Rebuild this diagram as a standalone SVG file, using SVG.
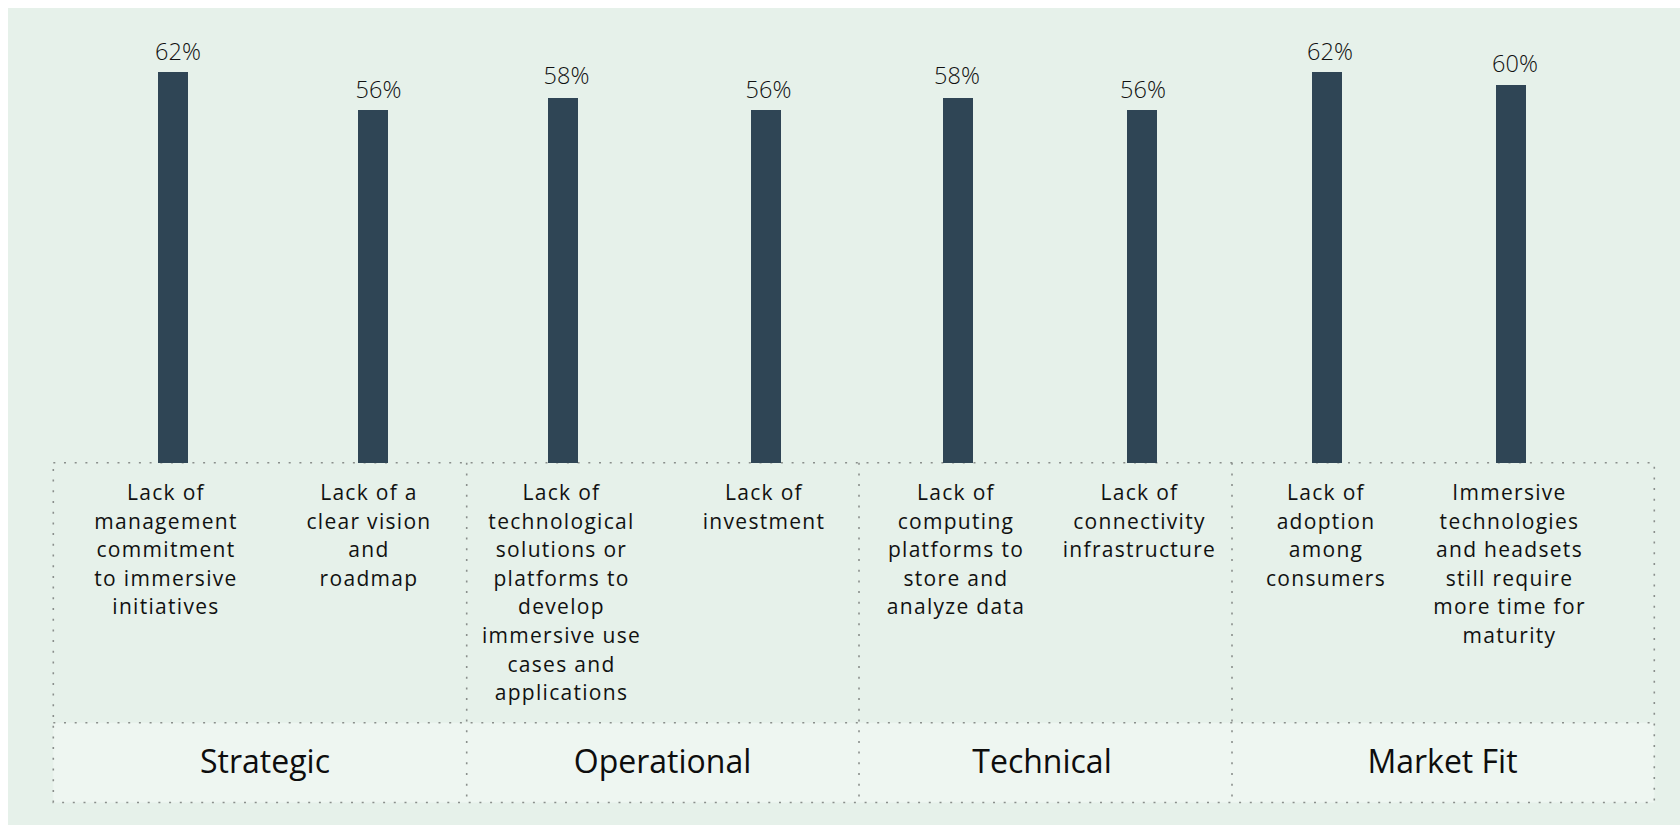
<svg xmlns="http://www.w3.org/2000/svg" width="1680" height="825" viewBox="0 0 1680 825">
<style>
.bar{fill:#2f4555}
.pct{font-family:"Open Sans","Liberation Sans",sans-serif;font-weight:350;font-size:23.5px;fill:#111;text-anchor:middle}
.lbl{font-family:"Open Sans","Liberation Sans",sans-serif;font-weight:380;font-size:21px;letter-spacing:1.3px;fill:#111;text-anchor:middle}
.cat{font-family:"Open Sans","Liberation Sans",sans-serif;font-weight:400;font-size:32px;fill:#0d0d0d;text-anchor:middle}
.dot{fill:none;stroke:#8a8f8c;stroke-width:1.6;stroke-dasharray:2 8.7}
</style>
<rect x="0" y="0" width="1680" height="825" fill="#ffffff"/>
<rect x="8" y="8" width="1672" height="817" fill="#e6f1ea"/>
<rect x="53.3" y="722.7" width="1601" height="79.8" fill="#eef6f1"/>

<g id="sections">
<g id="strategic"><text class="cat" x="265" y="773">Strategic</text></g>
<g id="operational"><text class="cat" x="662.5" y="772.5">Operational</text></g>
<g id="technical"><text class="cat" x="1042" y="772.5">Technical</text></g>
<g id="marketfit"><text class="cat" x="1442.5" y="772.5">Market Fit</text></g>
</g>

<g id="grid">
<rect class="dot" x="53.3" y="462.7" width="1601" height="339.8"/>
<line class="dot" x1="53.3" y1="722.7" x2="1654.3" y2="722.7"/>
<line class="dot" x1="466.7" y1="462.7" x2="466.7" y2="802.5"/>
<line class="dot" x1="859" y1="462.7" x2="859" y2="802.5"/>
<line class="dot" x1="1232" y1="462.7" x2="1232" y2="802.5"/>
</g>

<g id="bar1">
<rect class="bar" x="158" y="72" width="30" height="391"/>
<text class="pct" x="178" y="60">62%</text>
<text class="lbl" x="166"><tspan x="166" y="500">Lack of</tspan><tspan x="166" y="528.6">management</tspan><tspan x="166" y="557.2">commitment</tspan><tspan x="166" y="585.8">to immersive</tspan><tspan x="166" y="614.4">initiatives</tspan></text>
</g>
<g id="bar2">
<rect class="bar" x="358" y="110" width="30" height="353"/>
<text class="pct" x="378.5" y="97.5">56%</text>
<text class="lbl" x="369"><tspan x="369" y="500">Lack of a</tspan><tspan x="369" y="528.6">clear vision</tspan><tspan x="369" y="557.2">and</tspan><tspan x="369" y="585.8">roadmap</tspan></text>
</g>
<g id="bar3">
<rect class="bar" x="548" y="98" width="30" height="365"/>
<text class="pct" x="566.5" y="83.5">58%</text>
<text class="lbl" x="561.5"><tspan x="561.5" y="500">Lack of</tspan><tspan x="561.5" y="528.6">technological</tspan><tspan x="561.5" y="557.2">solutions or</tspan><tspan x="561.5" y="585.8">platforms to</tspan><tspan x="561.5" y="614.4">develop</tspan><tspan x="561.5" y="643">immersive use</tspan><tspan x="561.5" y="671.6">cases and</tspan><tspan x="561.5" y="700.2">applications</tspan></text>
</g>
<g id="bar4">
<rect class="bar" x="751" y="110" width="30" height="353"/>
<text class="pct" x="768.5" y="97.5">56%</text>
<text class="lbl" x="764"><tspan x="764" y="500">Lack of</tspan><tspan x="764" y="528.6">investment</tspan></text>
</g>
<g id="bar5">
<rect class="bar" x="943" y="98" width="30" height="365"/>
<text class="pct" x="957" y="83.5">58%</text>
<text class="lbl" x="956"><tspan x="956" y="500">Lack of</tspan><tspan x="956" y="528.6">computing</tspan><tspan x="956" y="557.2">platforms to</tspan><tspan x="956" y="585.8">store and</tspan><tspan x="956" y="614.4">analyze data</tspan></text>
</g>
<g id="bar6">
<rect class="bar" x="1127" y="110" width="30" height="353"/>
<text class="pct" x="1143" y="97.5">56%</text>
<text class="lbl" x="1139.5"><tspan x="1139.5" y="500">Lack of</tspan><tspan x="1139.5" y="528.6">connectivity</tspan><tspan x="1139.5" y="557.2">infrastructure</tspan></text>
</g>
<g id="bar7">
<rect class="bar" x="1312" y="72" width="30" height="391"/>
<text class="pct" x="1330" y="60">62%</text>
<text class="lbl" x="1326"><tspan x="1326" y="500">Lack of</tspan><tspan x="1326" y="528.6">adoption</tspan><tspan x="1326" y="557.2">among</tspan><tspan x="1326" y="585.8">consumers</tspan></text>
</g>
<g id="bar8">
<rect class="bar" x="1496" y="85" width="30" height="378"/>
<text class="pct" x="1515" y="72">60%</text>
<text class="lbl" x="1509.5"><tspan x="1509.5" y="500">Immersive</tspan><tspan x="1509.5" y="528.6">technologies</tspan><tspan x="1509.5" y="557.2">and headsets</tspan><tspan x="1509.5" y="585.8">still require</tspan><tspan x="1509.5" y="614.4">more time for</tspan><tspan x="1509.5" y="643">maturity</tspan></text>
</g>
<g id="connectors"></g>
</svg>
